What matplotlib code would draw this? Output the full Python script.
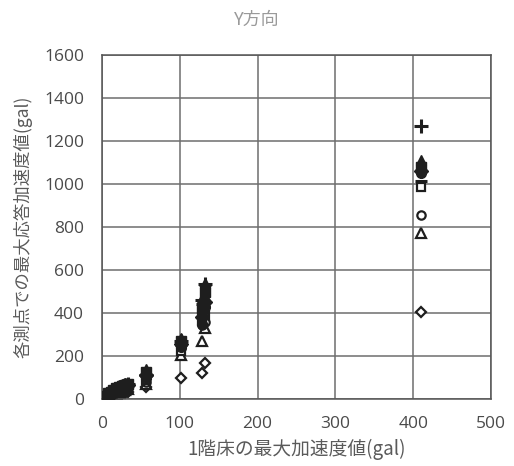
import matplotlib
matplotlib.use("Agg")
import matplotlib.pyplot as plt

plt.rcParams['font.family'] = ['Noto Sans CJK JP', 'DejaVu Sans']

# 1F peak acceleration for each shaking test (gal)
floor1_acc = [2, 5, 8, 11, 14, 18, 22, 26, 30, 34, 57, 102, 128, 132, 410]

# Peak response acceleration at each measuring point (gal)
pt_a = [3, 12, 20, 28, 35, 44, 50, 55, 60, 64, 110, 255, 380, 450, 1060]
pt_b = [6, 16, 26, 34, 42, 52, 58, 62, 66, 70, 125, 270, 420, 500, 1080]
pt_c = [9, 20, 30, 40, 48, 58, 64, 68, 74, 76, 140, 285, 470, 540, 1110]
pt_d = [2, 8, 14, 20, 26, 32, 38, 44, 50, 55, 100, 240, 350, 430, 1050]
pt_e = [5, 14, 24, 32, 40, 48, 55, 60, 68, 72, 118, 262, 400, 480, 1095]
pt_f = [2, 5, 8, 11, 14, 17, 20, 24, 28, 32, 55, 100, 120, 168, 405]
pt_g = [3, 7, 12, 17, 21, 27, 33, 38, 44, 48, 70, 205, 270, 330, 770]
pt_h = [3, 8, 13, 18, 24, 30, 36, 42, 48, 52, 80, 235, 345, 360, 855]
pt_i = [3, 9, 14, 20, 26, 33, 40, 46, 52, 56, 90, 225, 365, 390, 985]
pt_j = [4, 10, 16, 23, 29, 37, 45, 53, 60, 64, 105, 250, 440, 530, 1012]
pt_k = [4, 11, 17, 24, 31, 39, 47, 55, 64, 68, 112, 272, 460, 535, 1270]

x_ticks = [0, 100, 200, 300, 400, 500]
y_ticks = [0, 200, 400, 600, 800, 1000, 1200, 1400, 1600]

W, H = 514, 466
fig = plt.figure(figsize=(W / 100, H / 100), dpi=100)
ax = fig.add_axes([102 / W, 1 - 399 / H, (491 - 102) / W, (399 - 55) / H])

ink = '#1e1e1e'
filled = [(pt_a, 'D'), (pt_b, 's'), (pt_c, '^'), (pt_d, 'o'), (pt_e, '^')]
for vals, m in filled:
    ax.plot(floor1_acc, vals, linestyle='none', marker=m, markersize=7,
            markerfacecolor=ink, markeredgecolor=ink, zorder=3)

hollow = [(pt_f, 'D', 5.5), (pt_g, '^', 6.5), (pt_h, 'o', 6), (pt_i, 's', 6)]
for vals, m, ms in hollow:
    ax.plot(floor1_acc, vals, linestyle='none', marker=m, markersize=ms,
            markerfacecolor='white', markeredgecolor=ink, markeredgewidth=1.6,
            zorder=2.5)
ax.plot(floor1_acc, pt_j, linestyle='none', marker='_', markersize=9,
        markeredgecolor=ink, markeredgewidth=2.2, zorder=4)
ax.plot(floor1_acc, pt_k, linestyle='none', marker='+', markersize=10,
        markeredgecolor=ink, markeredgewidth=2.2, zorder=4)

ax.set_xlim(0, 500)
ax.set_ylim(0, 1600)
ax.set_xticks(x_ticks)
ax.set_yticks(y_ticks)
ax.grid(True, color='#6e6e6e', linewidth=1.1)
ax.set_axisbelow(True)
for s in ax.spines.values():
    s.set_color('#555555')
    s.set_linewidth(1.1)

tick_color = '#4a4a4a'
ax.tick_params(axis='both', length=0, labelsize=12.5, labelcolor=tick_color)
ax.tick_params(axis='y', pad=13)
ax.tick_params(axis='x', pad=12)
for lab in ax.get_xticklabels() + ax.get_yticklabels():
    lab.set_family(['Open Sans', 'DejaVu Sans'])

ax.set_xlabel('1階床の最大加速度値(gal)', fontsize=13.5, color='#5a5a5a',
              labelpad=5)
ax.set_ylabel('各測点での最大応答加速度値(gal)', fontsize=12.5,
              color='#5a5a5a', labelpad=8)

fig.text(257 / W, 1 - 20 / H, 'Y方向', ha='center', va='center',
         fontsize=13, color='#9a9a9a')

fig.savefig('out.png', dpi=100)
